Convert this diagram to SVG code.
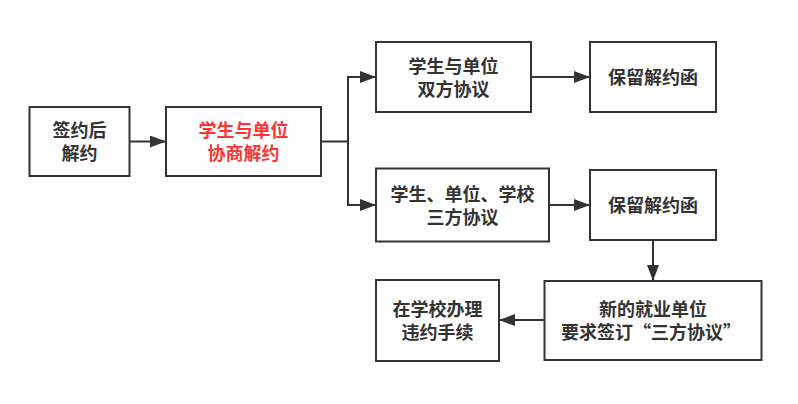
<svg xmlns="http://www.w3.org/2000/svg" width="798" height="404" viewBox="0 0 798 404">
<style>
.box{fill:#fff;stroke:#333;stroke-width:2}
.t{font-family:"Noto Sans CJK SC","Liberation Sans",sans-serif;font-size:18px;font-weight:bold;fill:#333;text-anchor:middle}
.red{fill:#ff3333}
.ln{fill:none;stroke:#333;stroke-width:2}
</style>
<defs>
<marker id="ah" markerWidth="16" markerHeight="12" refX="15" refY="6" orient="auto" markerUnits="userSpaceOnUse">
<path d="M0,0 L16,6 L0,12 Z" fill="#333"/>
</marker>
</defs>
<rect width="798" height="404" fill="#fff"/>
<g id="connectors">
<path class="ln" d="M129,141.5 H165" marker-end="url(#ah)"/>
<path class="ln" d="M321,141.5 H348 V77 H375" marker-end="url(#ah)"/>
<path class="ln" d="M348,141.5 V205 H375" marker-end="url(#ah)"/>
<path class="ln" d="M531,77 H589" marker-end="url(#ah)"/>
<path class="ln" d="M549,205 H589" marker-end="url(#ah)"/>
<path class="ln" d="M653,240 V280" marker-end="url(#ah)"/>
<path class="ln" d="M544,320 H500" marker-end="url(#ah)"/>
</g>
<g id="n1">
<rect class="box" x="29.5" y="107" width="100" height="69"/>
<text class="t" x="79.5" y="137">签约后</text>
<text class="t" x="79.5" y="160">解约</text>
</g>
<g id="n2">
<rect class="box" x="166" y="107" width="155" height="69"/>
<text class="t red" x="243.5" y="137">学生与单位</text>
<text class="t red" x="243.5" y="160">协商解约</text>
</g>
<g id="n3">
<rect class="box" x="376" y="42" width="155" height="70"/>
<text class="t" x="453.5" y="72.5">学生与单位</text>
<text class="t" x="453.5" y="95.5">双方协议</text>
</g>
<g id="n4">
<rect class="box" x="590" y="42" width="126" height="70"/>
<text class="t" x="653" y="84">保留解约函</text>
</g>
<g id="n5">
<rect class="box" x="376" y="168.5" width="173" height="73"/>
<text class="t" x="462.5" y="200.5">学生、单位、学校</text>
<text class="t" x="462.5" y="223.5">三方协议</text>
</g>
<g id="n6">
<rect class="box" x="590" y="170" width="126" height="70"/>
<text class="t" x="653" y="212">保留解约函</text>
</g>
<g id="n7">
<rect class="box" x="544.5" y="281" width="217" height="79"/>
<text class="t" x="653" y="315.5">新的就业单位</text>
<text class="t" x="651" y="338.5">要求签订“三方协议”</text>
</g>
<g id="n8">
<rect class="box" x="376" y="280" width="123" height="81"/>
<text class="t" x="437.5" y="315.5">在学校办理</text>
<text class="t" x="437.5" y="338.5">违约手续</text>
</g>
</svg>
